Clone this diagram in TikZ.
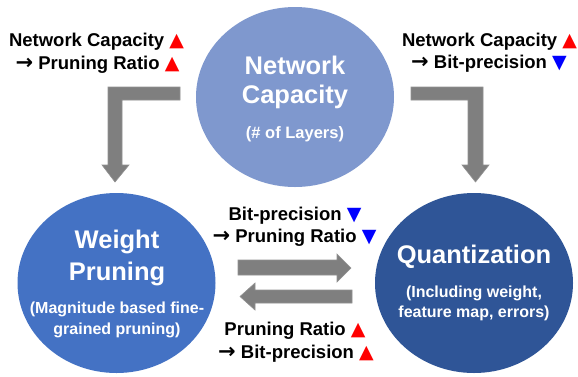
\documentclass[tikz,border=0pt]{standalone}
\usepackage{fontspec}
\setmainfont{Liberation Sans}
\newfontfamily\djv{DejaVu Sans}
\usetikzlibrary{shapes.geometric}
\definecolor{topc}{HTML}{7F98CE}
\definecolor{leftc}{HTML}{4472C4}
\definecolor{rightc}{HTML}{2F5597}
\definecolor{arrg}{HTML}{7F7F7F}
\definecolor{tred}{HTML}{FF0000}
\definecolor{tblue}{HTML}{0000FF}
\newcommand{\tup}{{\djv\fontsize{19}{22}\selectfont\textcolor{tred}{▲}}}
\newcommand{\tdn}{{\djv\fontsize{19}{22}\selectfont\textcolor{tblue}{▼}}}
\newcommand{\rarr}{{\djv\bfseries\fontsize{21}{22}\selectfont →}}
\begin{document}
\begin{tikzpicture}[x=1pt,y=-1pt,
 blob/.style={ellipse, minimum width=198pt, minimum height=180pt, inner sep=0pt},
 title/.style={font=\fontsize{25.5}{30}\selectfont\bfseries, text=white, anchor=base, inner sep=0pt},
 sub/.style={font=\fontsize{16}{19}\selectfont\bfseries, text=white, anchor=base, inner sep=0pt},
 lab/.style={font=\fontsize{18.5}{22}\selectfont\bfseries, anchor=base, inner sep=0pt},
 blk/.style={fill=arrg, draw=arrg!85!white, line width=0.6pt}]
\useasboundingbox (0,0) rectangle (578,376);
\fill[white] (0,0) rectangle (578,376);
% circles
\node[blob, fill=topc] (cap) at (295,97) {};
\node[blob, fill=leftc] (wp) at (116.5,283) {};
\node[blob, fill=rightc] (qz) at (474,283) {};
% circle texts
\node[title] (capA) at (295,74) {Network};
\node[title] (capB) at (295,103) {Capacity};
\node[sub, font=\fontsize{16.5}{19}\selectfont\bfseries] (capC) at (295,138) {(\# of Layers)};
\node[title] (wpA) at (117,248) {Weight};
\node[title] (wpB) at (117,280) {Pruning};
\node[sub] (wpC) at (117,313) {(Magnitude based fine-};
\node[sub] (wpD) at (117,334) {grained pruning)};
\node[title] (qzA) at (474,263) {Quantization};
\node[sub] (qzB) at (474,297) {(Including weight,};
\node[sub] (qzC) at (474,317) {feature map, errors)};
% block arrows
\coordinate (la) at (180,87);
\coordinate (ra) at (411,87);
\draw[blk] (la) -- (108,87) -- (108,165) -- (102,165) -- (115,182) -- (129,165) -- (122,165) -- (122,100) -- (180,100) -- cycle;
\draw[blk] (ra) -- (483,87) -- (483,165) -- (489,165) -- (475.5,182) -- (462,165) -- (468,165) -- (468,100) -- (411,100) -- cycle;
\draw[blk] (238,260) -- (337,260) -- (337,254) -- (351,268) -- (337,282) -- (337,275) -- (238,275) -- cycle;
\draw[blk] (352,290) -- (255,290) -- (255,283) -- (240,296.5) -- (255,310) -- (255,303) -- (352,303) -- cycle;
% labels
\node[lab] (tlA) at (96.5,46) {Network Capacity \tup};
\node[lab] (tlB) at (97.5,69) {\rarr\ Pruning Ratio \tup};
\node[lab] (trA) at (489.5,46) {Network Capacity \tup};
\node[lab] (trB) at (489,68) {\rarr\ Bit-precision \tdn};
\node[lab] (mA) at (295,220) {Bit-precision \tdn};
\node[lab] (mB) at (294.5,242) {\rarr\ Pruning Ratio \tdn};
\node[lab] (bA) at (295,335) {Pruning Ratio \tup};
\node[lab] (bB) at (296,358) {\rarr\ Bit-precision \tup};
\end{tikzpicture}
\end{document}
